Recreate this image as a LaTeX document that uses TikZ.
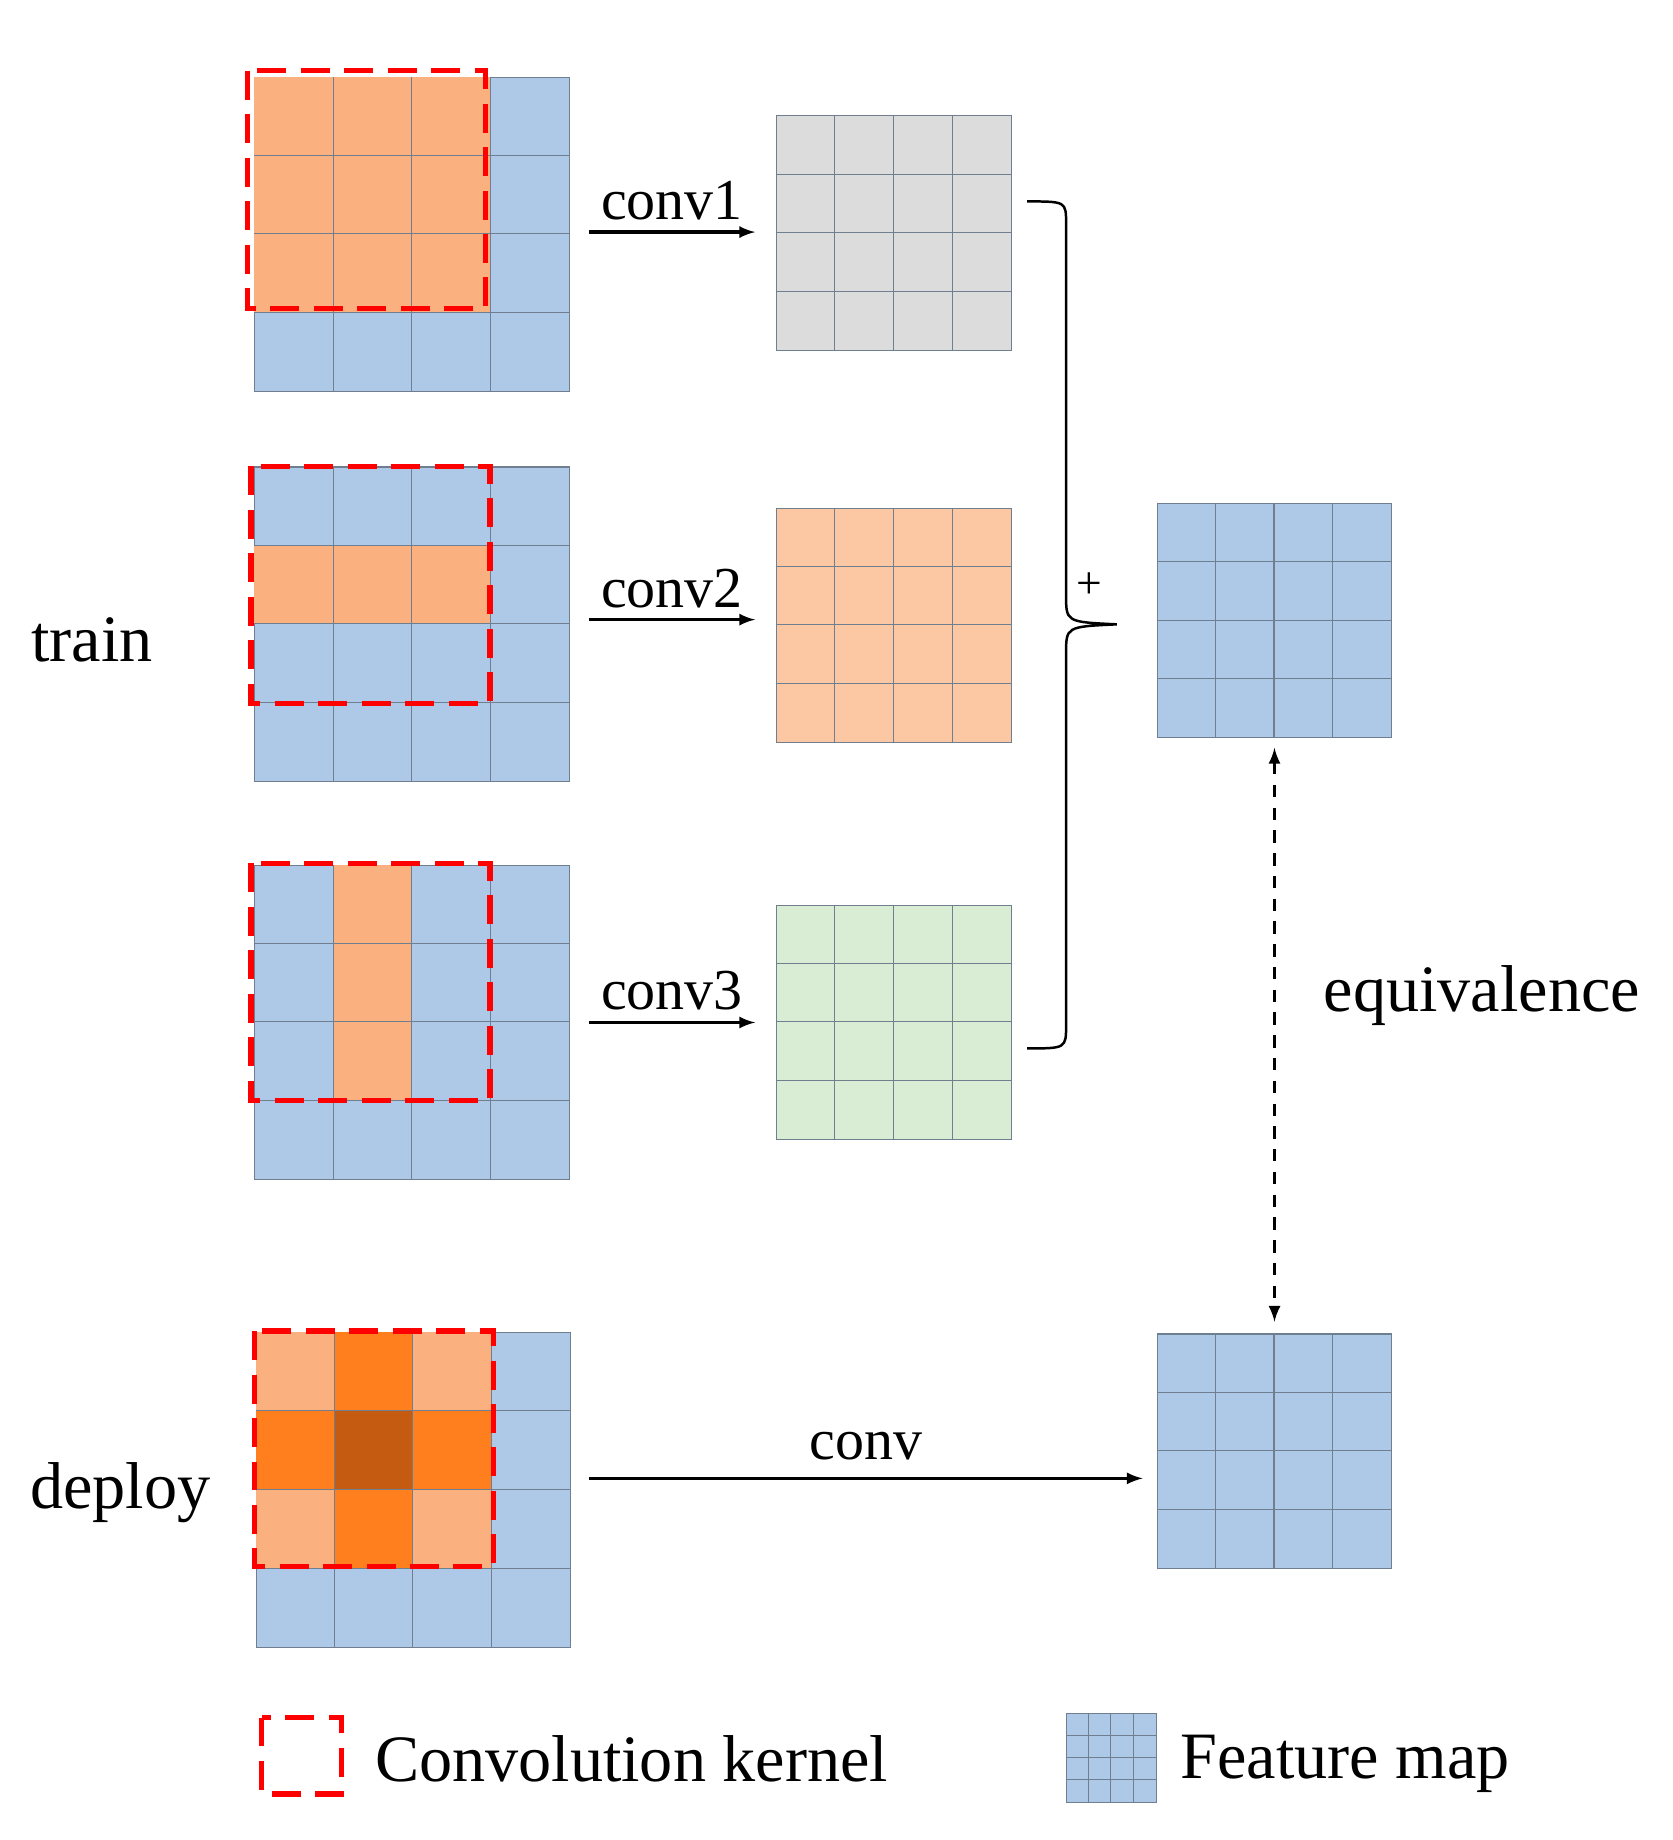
\documentclass[tikz,border=0pt]{standalone}
\usepackage{fontspec}
\setmainfont{Liberation Serif}
\begin{document}
\definecolor{fb}{HTML}{AEC8E8}
\definecolor{fo}{HTML}{FBB07F}
\definecolor{fo2}{HTML}{FF7F1F}
\definecolor{fo3}{HTML}{C55A11}
\definecolor{lo}{HTML}{FCC8A4}
\definecolor{lg}{HTML}{DCDCDC}
\definecolor{gr}{HTML}{D8EDD3}
\definecolor{gl}{HTML}{6F7F8F}
\begin{tikzpicture}[x=0.02cm,y=-0.02cm,
  kern/.style={draw=red,line width=2.6pt,dash pattern=on 14pt off 7pt},
  lbl/.style={font=\fontsize{28}{30}\selectfont,inner sep=0pt},
  big/.style={font=\fontsize{32}{34}\selectfont,inner sep=0pt},
  arr/.style={-latex,line width=1.6pt}]
\useasboundingbox[fill=white] (0,0) rectangle (1420,1562);
% \mygrid{name}{x0}{y0}{size}{fill}
\newcommand\mygrid[5]{%
  \node[draw=gl,fill=#5,minimum width=#4*0.02cm,minimum height=#4*0.02cm,inner sep=0pt,anchor=north west,line width=0.5pt] (#1) at (#2,#3) {};}
\newcommand\mylines[3]{%
  \foreach \k in {1,2,3}{\draw[gl,line width=0.5pt] (#1+\k*#3/4,#2) -- (#1+\k*#3/4,#2+#3);
   \draw[gl,line width=0.5pt] (#1,#2+\k*#3/4) -- (#1+#3,#2+\k*#3/4);}}
\newcommand\mycell[5]{\fill[#5] (#1+#4*#3/4,#2+#3*0+\number#4*0) ;}
% grid 1
\mygrid{g1}{216}{65}{267}{fb}
\fill[fo] (216,65) rectangle ++(200,200);
\mylines{216}{65}{267}
\draw[kern] (210,60) rectangle (412,262);
% grid 2
\mygrid{g2}{216}{396}{267}{fb}
\fill[fo] (216,462.75) rectangle ++(200,66.75);
\mylines{216}{396}{267}
\draw[kern] (213,396) rectangle (416,597);
% grid 3
\mygrid{g3}{216}{734}{267}{fb}
\fill[fo] (282.75,734) rectangle ++(66.75,200);
\mylines{216}{734}{267}
\draw[kern] (213,733) rectangle (416,934);
% grid 4
\mygrid{g4}{217}{1131}{267}{fb}
\fill[fo] (217,1131) rectangle ++(200.25,200.25);
\fill[fo2] (283.75,1131) rectangle ++(66.75,200.25);
\fill[fo2] (217,1197.75) rectangle ++(200.25,66.75);
\fill[fo3] (283.75,1197.75) rectangle ++(66.75,66.75);
\mylines{217}{1131}{267}
\draw[kern] (216,1130) rectangle (419,1330);
% right grids
\mygrid{r1}{659}{98}{199}{lg}\mylines{659}{98}{199}
\mygrid{r2}{659}{431}{199}{lo}\mylines{659}{431}{199}
\mygrid{r3}{659}{768}{199}{gr}\mylines{659}{768}{199}
\mygrid{s1}{982}{427}{199}{fb}\mylines{982}{427}{199}
\mygrid{s2}{982}{1132}{199}{fb}\mylines{982}{1132}{199}
% arrows
\coordinate (a1) at (500,197); \coordinate (b1) at (641,197);
\coordinate (a2) at (500,526); \coordinate (b2) at (641,526);
\coordinate (a3) at (500,868); \coordinate (b3) at (641,868);
\coordinate (a4) at (500,1255); \coordinate (b4) at (970,1255);
\draw[arr] (a1) -- (b1) node[lbl,midway,above=5pt] {conv1};
\draw[arr] (a2) -- (b2) node[lbl,midway,above=5pt] {conv2};
\draw[arr] (a3) -- (b3) node[lbl,midway,above=5pt] {conv3};
\draw[arr] (a4) -- (b4) node[lbl,midway,above=8pt] {conv};
% brace
\draw[line width=1.2pt] (872,171) .. controls (905,171) .. (905,190) -- (905,505)
  .. controls (905,528) .. (948,530) .. controls (905,532) .. (905,555) -- (905,870)
  .. controls (905,890) .. (872,890);
\node[lbl,font=\fontsize{22}{24}\selectfont] (plus) at (925,497) {+};
% dashed arrow
\draw[latex-latex,line width=1.6pt,dash pattern=on 6pt off 5pt] ([yshift=-0.16cm]s1.south) -- ([yshift=0.2cm]s2.north);
% texts
\node[big] (t1) at (78,543) {train};
\node[big] (t2) at (102,1267) {deploy};
\node[big] (t3) at (1258,845) {equivalence};
% legend
\draw[kern] (222,1458) rectangle (290,1523);
\node[big,anchor=west] (L1) at (318,1493) {Convolution kernel};
\mygrid{lf}{905}{1454}{76}{fb}\mylines{905}{1454}{76}
\node[big,anchor=west] (L2) at (1002,1497) {Feature map};
\end{tikzpicture}
\end{document}
